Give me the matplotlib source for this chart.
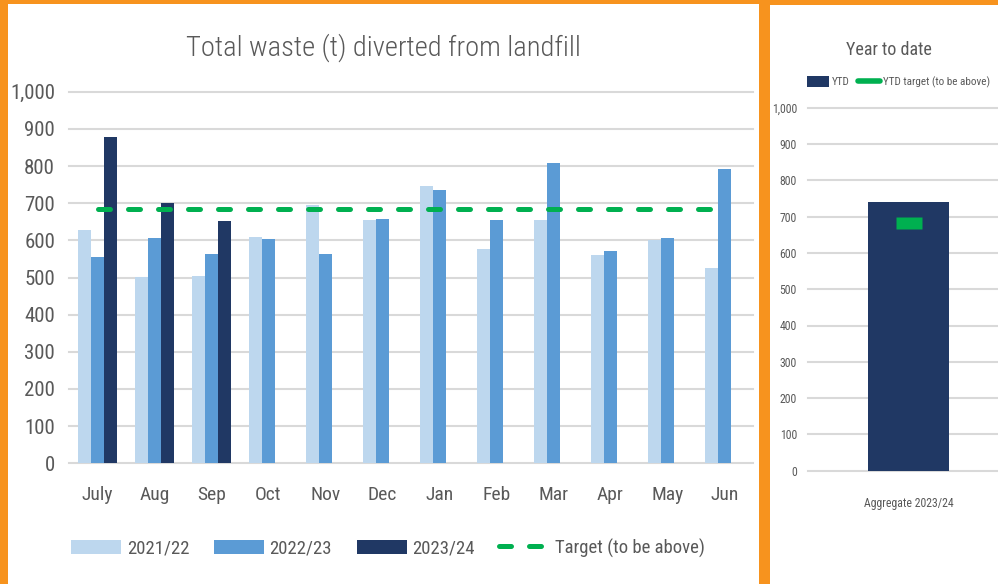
import matplotlib
matplotlib.use('Agg')
import matplotlib.pyplot as plt
import numpy as np
from matplotlib import font_manager
from matplotlib.patches import Rectangle, Patch
from matplotlib.lines import Line2D
from matplotlib.ticker import FuncFormatter

# data
months = ['July', 'Aug', 'Sep', 'Oct', 'Nov', 'Dec', 'Jan', 'Feb', 'Mar', 'Apr', 'May', 'Jun']
y2122 = [627, 501, 504, 610, 695, 655, 746, 576, 655, 561, 601, 526]
y2223 = [556, 607, 564, 603, 563, 657, 735, 654, 807, 571, 607, 793]
y2324 = [877, 701, 652]
target = [683] * 12

ytd_label = ['Aggregate 2023/24']
ytd_value = [740]
ytd_target = [682]

orange = '#F7931E'
light = '#BDD7EE'
mid = '#5B9BD5'
dark = '#203864'
green = '#00B050'
grey = '#595959'
gridc = '#D9D9D9'

# pick a narrow font if one is installed
fonts = font_manager.fontManager.ttflist
names = set(f.name for f in fonts)
stretch = 'normal'
fam = 'DejaVu Sans'
for n in ['Liberation Sans Narrow', 'Roboto Condensed', 'Open Sans Condensed']:
    if n in names:
        fam = n
        break
else:
    if any(f.name == 'DejaVu Sans' and f.stretch == 'condensed' for f in fonts):
        stretch = 'condensed'
plt.rcParams['font.family'] = [fam, 'DejaVu Sans']
plt.rcParams['font.stretch'] = stretch

W, H = 998, 584
fig = plt.figure(figsize=(W / 100, H / 100), dpi=100, facecolor=orange)

# white panels
fig.patches.append(Rectangle((8 / W, 0), (759 - 8) / W, (H - 4) / H,
                             transform=fig.transFigure, facecolor='white', edgecolor='none', zorder=-5))
fig.patches.append(Rectangle((770 / W, 0), (W - 770) / W, (H - 5) / H,
                             transform=fig.transFigure, facecolor='white', edgecolor='none', zorder=-5))

def fmt(v, pos):
    return '{:,.0f}'.format(v)

# ---- left chart: monthly
ax = fig.add_axes([69 / W, (H - 463.3) / H, 684 / W, (463.3 - 91.7) / H])
ax.set_facecolor('none')
x = np.arange(len(months))
bw = 0.235
off = 0.225
ax.bar(x - off, y2122, bw, color=light, zorder=2)
ax.bar(x, y2223, bw, color=mid, zorder=2)
ax.bar(np.arange(len(y2324)) + off, y2324, bw, color=dark, zorder=2)
tl, = ax.plot(x, target, color=green, lw=3.6, zorder=3)
tl.set_dashes((2.4, 3.6))
tl.set_dash_capstyle('round')

ax.set_xlim(-0.5, 11.5)
ax.set_ylim(0, 1000)
ax.set_yticks(range(0, 1001, 100))
ax.yaxis.set_major_formatter(FuncFormatter(fmt))
ax.set_xticks(x)
ax.set_xticklabels(months)
ax.grid(axis='y', color=gridc, lw=1.5, zorder=0)
for gl in ax.get_ygridlines():
    gl.set_clip_on(False)
for s in ax.spines.values():
    s.set_visible(False)
ax.tick_params(length=0, colors=grey, labelsize=15)
ax.tick_params(axis='x', labelsize=14)
ax.tick_params(axis='y', pad=10)
ax.tick_params(axis='x', pad=16)
fig.text(383 / W, 1 - 48 / H, 'Total waste (t) diverted from landfill', ha='center', va='center',
         fontsize=20.5, color=grey, fontweight='light')

handles = [Patch(facecolor=light), Patch(facecolor=mid), Patch(facecolor=dark),
           Line2D([0], [0], color=green, lw=3.6, dashes=(2.4, 3.6), dash_capstyle='round')]
labels = ['2021/22', '2022/23', '2023/24', 'Target (to be above)']
fig.legend(handles, labels, loc='center', bbox_to_anchor=(388 / W, 1 - 548 / H), ncol=4,
           frameon=False, fontsize=13.5, labelcolor=grey, handlelength=2.67, handleheight=0.8,
           handletextpad=0.3, columnspacing=1.3)

# ---- right chart: year to date
ax2 = fig.add_axes([808 / W, (H - 470.7) / H, 201 / W, (470.7 - 107.7) / H])
ax2.set_facecolor('none')
ax2.bar([0], ytd_value, 0.403, color=dark, zorder=2)
ax2.plot([0], ytd_target, linestyle='none', zorder=3,
         marker=[(-1, -0.46), (1, -0.46), (1, 0.46), (-1, 0.46), (-1, -0.46)],
         markersize=18.5, markerfacecolor=green, markeredgecolor='none')
ax2.set_xlim(-0.5, 0.5)
ax2.set_ylim(0, 1000)
ax2.set_yticks(range(0, 1001, 100))
ax2.yaxis.set_major_formatter(FuncFormatter(fmt))
ax2.set_xticks([0])
ax2.set_xticklabels(ytd_label)
ax2.grid(axis='y', color=gridc, lw=1.5, zorder=0)
for gl in ax2.get_ygridlines():
    gl.set_clip_on(False)
for s in ax2.spines.values():
    s.set_visible(False)
ax2.tick_params(length=0, colors=grey, labelsize=8.5)
ax2.tick_params(axis='y', pad=8)
ax2.tick_params(axis='x', pad=19)
fig.text(889 / W, 1 - 50 / H, 'Year to date', ha='center', va='center', fontsize=13, color=grey)

h2 = [Patch(facecolor=dark), Line2D([0], [0], color=green, lw=4, solid_capstyle='round')]
fig.legend(h2, ['YTD', 'YTD target (to be above)'], loc='center left',
           bbox_to_anchor=(807 / W, 1 - 82 / H), ncol=2, frameon=False, fontsize=8,
           labelcolor=grey, handlelength=2.0, handleheight=1.1, handletextpad=0.2,
           columnspacing=0.8, borderpad=0, borderaxespad=0)

fig.savefig('out.png', dpi=100, facecolor=orange)
